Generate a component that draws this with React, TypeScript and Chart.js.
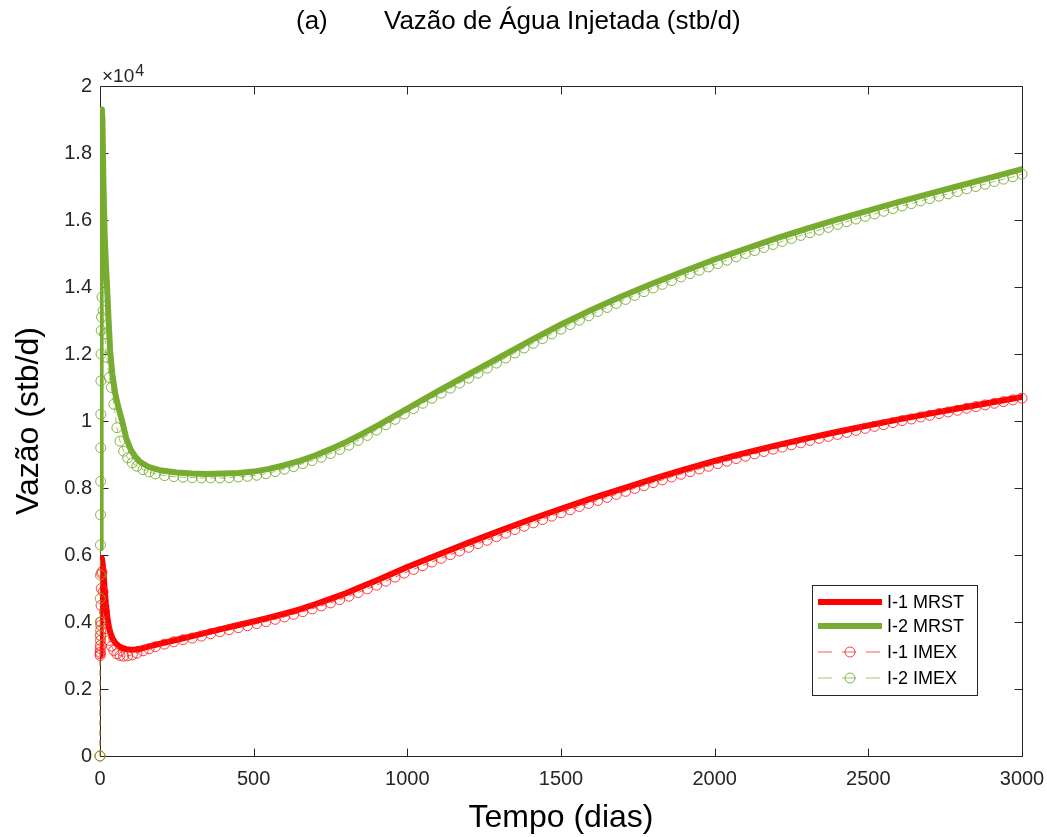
import React, { useEffect, useRef } from "react";
import { Chart, registerables } from "chart.js";

Chart.register(...registerables);

const FONT = "'Liberation Sans', Arial, Helvetica, sans-serif";
const AXIS_COLOR = "#262626";

const TITLE_TAG = "(a)";
const TITLE_TEXT = "Vazão de Água Injetada (stb/d)";
const X_TITLE = "Tempo (dias)";
const Y_TITLE = "Vazão (stb/d)";
const Y_MULTIPLIER = "×10";
const Y_EXPONENT = "4";
const LEGEND_LABELS = ["I-1 MRST", "I-2 MRST", "I-1 IMEX", "I-2 IMEX"];

const X_TICKS = [0, 500, 1000, 1500, 2000, 2500, 3000];
const Y_TICKS = [0, 0.2, 0.4, 0.6, 0.8, 1, 1.2, 1.4, 1.6, 1.8, 2];

// values in units of 10^4 stb/d
const MRST_DAYS = [
  0, 1, 2, 3, 4, 6, 8, 11, 15, 19, 23, 28, 33, 40, 50, 60, 72, 85, 100, 115,
  130, 160, 200, 250, 300, 350, 400, 450, 500, 550, 600, 650, 700, 750, 800,
  850, 900, 950, 1000, 1100, 1200, 1300, 1400, 1500, 1600, 1700, 1800, 1900,
  2000, 2100, 2200, 2300, 2400, 2500, 2600, 2700, 2800, 2900, 3000,
];
const MRST_I1 = [
  0.3, 0.36, 0.44, 0.51, 0.56, 0.59, 0.58, 0.55, 0.5, 0.455, 0.42, 0.39, 0.37,
  0.352, 0.338, 0.329, 0.323, 0.319, 0.317, 0.318, 0.32, 0.327, 0.336, 0.347,
  0.358, 0.369, 0.38, 0.391, 0.402, 0.413, 0.425, 0.438, 0.453, 0.469, 0.486,
  0.505, 0.524, 0.544, 0.564, 0.601, 0.637, 0.672, 0.706, 0.738, 0.769, 0.798,
  0.827, 0.855, 0.881, 0.905, 0.927, 0.948, 0.968, 0.987, 1.005, 1.022, 1.039,
  1.055, 1.072,
];
const MRST_I2 = [
  0.62, 1.0, 1.4, 1.65, 1.8, 1.93, 1.9, 1.72, 1.56, 1.47, 1.4, 1.3, 1.21, 1.14,
  1.08, 1.04, 1.0, 0.95, 0.915, 0.893, 0.878, 0.862, 0.852, 0.846, 0.843,
  0.842, 0.843, 0.845, 0.849, 0.857, 0.868, 0.881, 0.897, 0.916, 0.937, 0.96,
  0.985, 1.011, 1.037, 1.089, 1.14, 1.19, 1.24, 1.288, 1.332, 1.373, 1.411,
  1.447, 1.482, 1.514, 1.545, 1.574, 1.602, 1.628, 1.654, 1.679, 1.703, 1.727,
  1.752,
];

const IMEX_DAYS = [
  0, 0.3, 0.6, 0.9, 1.2, 1.5, 1.8, 2.1, 2.4, 2.7, 3, 3.5, 4, 5, 6.5, 10, 15,
  22, 30, 37, 45, 55, 65, 77, 90, 105, 120, 140, 160, 180, 210, 240, 270,
  300, 330, 360, 390, 420, 450, 480, 510, 540, 570, 600, 630, 660, 690, 720,
  750, 780, 810, 840, 870, 900, 930, 960, 990, 1020, 1050, 1080, 1110, 1140,
  1170, 1200, 1230, 1260, 1290, 1320, 1350, 1380, 1410, 1440, 1470, 1500,
  1530, 1560, 1590, 1620, 1650, 1680, 1710, 1740, 1770, 1800, 1830, 1860,
  1890, 1920, 1950, 1980, 2010, 2040, 2070, 2100, 2130, 2160, 2190, 2220,
  2250, 2280, 2310, 2340, 2370, 2400, 2430, 2460, 2490, 2520, 2550, 2580,
  2610, 2640, 2670, 2700, 2730, 2760, 2790, 2820, 2850, 2880, 2910, 2940,
  2970, 3000,
];
const IMEX_I1 = [
  0, 0.3, 0.305, 0.31, 0.32, 0.33, 0.345, 0.36, 0.375, 0.39, 0.4, 0.45, 0.5,
  0.545, 0.55, 0.49, 0.43, 0.38, 0.345, 0.328, 0.315, 0.305, 0.3, 0.298, 0.299,
  0.302, 0.307, 0.314, 0.32, 0.326, 0.334, 0.341, 0.347,
  0.352, 0.358, 0.365, 0.371, 0.377, 0.383, 0.389, 0.395, 0.401, 0.408, 0.415,
  0.423, 0.431, 0.439, 0.448, 0.457, 0.467, 0.477, 0.488, 0.499, 0.51, 0.522,
  0.534, 0.546, 0.557, 0.568, 0.579, 0.59, 0.601, 0.612, 0.623, 0.634, 0.644,
  0.655, 0.665, 0.676, 0.686, 0.696, 0.706, 0.716, 0.726, 0.735, 0.745, 0.754,
  0.763, 0.772, 0.781, 0.79, 0.799, 0.807, 0.816, 0.824, 0.833, 0.841, 0.849,
  0.857, 0.865, 0.873, 0.88, 0.888, 0.895, 0.902, 0.909, 0.916, 0.922, 0.929,
  0.935, 0.942, 0.948, 0.954, 0.96, 0.966, 0.972, 0.978, 0.984, 0.989, 0.995,
  1.001, 1.006, 1.012, 1.017, 1.022, 1.027, 1.032, 1.038, 1.043, 1.048, 1.053,
  1.058, 1.063, 1.068,
];
const IMEX_I2 = [
  0, 0.36, 0.4, 0.47, 0.54, 0.63, 0.72, 0.82, 0.92, 1.02, 1.12, 1.2, 1.27,
  1.31, 1.37, 1.33, 1.26, 1.19, 1.13, 1.1, 1.05, 0.98, 0.94, 0.91, 0.89, 0.875,
  0.865, 0.855, 0.848, 0.842, 0.837, 0.834, 0.832,
  0.831, 0.83, 0.83, 0.83, 0.831, 0.833, 0.835, 0.838, 0.843, 0.849, 0.856,
  0.864, 0.873, 0.882, 0.892, 0.903, 0.915, 0.928, 0.942, 0.957, 0.973, 0.989,
  1.005, 1.021, 1.037, 1.053, 1.068, 1.083, 1.098, 1.113, 1.128, 1.143, 1.158,
  1.173, 1.188, 1.203, 1.218, 1.232, 1.246, 1.26, 1.274, 1.288, 1.301, 1.314,
  1.327, 1.339, 1.351, 1.363, 1.375, 1.386, 1.397, 1.408, 1.419, 1.43, 1.44,
  1.45, 1.46, 1.47, 1.48, 1.49, 1.5, 1.509, 1.518, 1.527, 1.536, 1.545,
  1.554, 1.562, 1.57, 1.578, 1.587, 1.595, 1.603, 1.611, 1.618, 1.626, 1.634,
  1.642, 1.649, 1.657, 1.664, 1.671, 1.678, 1.685, 1.693, 1.7, 1.707, 1.715,
  1.722, 1.729, 1.737,
];

const RED = "#FF0000";
const GREEN = "#77AC30";
const RED_THIN = "rgba(255,0,0,0.65)";
const GREEN_THIN = "rgba(119,172,48,0.7)";
const RED_MARK = "rgba(255,30,30,0.85)";
const GREEN_MARK = "rgba(119,172,48,0.9)";

const toXY = (xs: number[], ys: number[]) => xs.map((x, i) => ({ x, y: ys[i] }));

const framePlugin = {
  id: "frame",
  beforeDatasetsDraw(chart: any) {
    const { ctx, chartArea, scales } = chart;
    const { left, top, right, bottom } = chartArea;
    const L = Math.round(left) + 0.5;
    const R = Math.round(right) + 0.5;
    const T = Math.round(top) + 0.5;
    const B = Math.round(bottom) + 0.5;
    ctx.save();
    ctx.strokeStyle = AXIS_COLOR;
    ctx.lineWidth = 1;
    ctx.beginPath();
    ctx.rect(L, T, R - L, B - T);
    const tl = 8;
    X_TICKS.forEach((v) => {
      const px = Math.round(scales.x.getPixelForValue(v)) + 0.5;
      ctx.moveTo(px, B);
      ctx.lineTo(px, B - tl);
      ctx.moveTo(px, T);
      ctx.lineTo(px, T + tl);
    });
    Y_TICKS.forEach((v) => {
      const py = Math.round(scales.y.getPixelForValue(v)) + 0.5;
      ctx.moveTo(L, py);
      ctx.lineTo(L + tl, py);
      ctx.moveTo(R, py);
      ctx.lineTo(R - tl, py);
    });
    ctx.stroke();
    ctx.restore();
  },
};

const overlayPlugin = {
  id: "overlay",
  afterDatasetsDraw(chart: any) {
    const { ctx, chartArea } = chart;
    // legend box (inside plot area, lower right)
    const bx = chartArea.right - 210;
    const by = chartArea.bottom - 171;
    const bw = 165;
    const bh = 110;
    ctx.save();
    ctx.fillStyle = "#ffffff";
    ctx.fillRect(bx, by, bw, bh);
    ctx.strokeStyle = AXIS_COLOR;
    ctx.lineWidth = 1;
    ctx.strokeRect(Math.round(bx) + 0.5, Math.round(by) + 0.5, bw, bh);
    const rows = [17, 41, 67, 93];
    const x0 = bx + 6;
    const x1 = bx + 70;
    const xc = (x0 + x1) / 2;
    const styles = [
      { color: RED, width: 6, marker: null as string | null, thin: "" },
      { color: GREEN, width: 6, marker: null as string | null, thin: "" },
      { color: RED_THIN, width: 1, marker: RED_MARK, thin: "dash" },
      { color: GREEN_THIN, width: 1, marker: GREEN_MARK, thin: "dash" },
    ];
    styles.forEach((s, i) => {
      const y = by + rows[i];
      ctx.beginPath();
      ctx.strokeStyle = s.color;
      ctx.lineWidth = s.width;
      if (s.thin) ctx.setLineDash([14, 10]);
      else ctx.setLineDash([]);
      ctx.moveTo(x0, y);
      ctx.lineTo(x1, y);
      ctx.stroke();
      ctx.setLineDash([]);
      if (s.marker) {
        ctx.beginPath();
        ctx.strokeStyle = s.marker;
        ctx.lineWidth = 1;
        ctx.arc(xc, y, 5, 0, Math.PI * 2);
        ctx.stroke();
      }
      ctx.fillStyle = "#000000";
      ctx.font = `18px ${FONT}`;
      ctx.textAlign = "left";
      ctx.textBaseline = "middle";
      ctx.fillText(LEGEND_LABELS[i], bx + 75, y + 1);
    });
    ctx.restore();
  },
  afterDraw(chart: any) {
    const { ctx, chartArea } = chart;
    ctx.save();
    // title
    ctx.fillStyle = "#000000";
    ctx.font = `26px ${FONT}`;
    ctx.textBaseline = "middle";
    ctx.textAlign = "left";
    ctx.fillText(TITLE_TAG, 296, 22);
    ctx.fillText(TITLE_TEXT, 384, 22);
    // exponent label
    ctx.fillStyle = AXIS_COLOR;
    ctx.textBaseline = "alphabetic";
    ctx.font = `19px ${FONT}`;
    const ex = chartArea.left + 2;
    ctx.fillText(Y_MULTIPLIER, ex, chartArea.top - 4);
    const w = ctx.measureText(Y_MULTIPLIER).width;
    ctx.font = `16px ${FONT}`;
    ctx.fillText(Y_EXPONENT, ex + w + 1, chartArea.top - 10);
    ctx.restore();
  },
};

export default function App() {
  const ref = useRef<HTMLCanvasElement | null>(null);
  useEffect(() => {
    if (!ref.current) return;
    const chart = new Chart(ref.current, {
      type: "line",
      data: {
        datasets: [
          {
            label: LEGEND_LABELS[0],
            data: toXY(MRST_DAYS, MRST_I1),
            borderColor: RED,
            backgroundColor: RED,
            borderWidth: 6,
            pointRadius: 0,
            tension: 0,
            borderJoinStyle: "round",
            borderCapStyle: "round",
            order: 4,
          },
          {
            label: LEGEND_LABELS[1],
            data: toXY(MRST_DAYS, MRST_I2),
            borderColor: GREEN,
            backgroundColor: GREEN,
            borderWidth: 6,
            pointRadius: 0,
            tension: 0,
            borderJoinStyle: "round",
            borderCapStyle: "round",
            order: 3,
          },
          {
            label: LEGEND_LABELS[2],
            data: toXY(IMEX_DAYS, IMEX_I1),
            borderColor: RED_THIN,
            borderWidth: 1,
            borderDash: [6, 4],
            pointRadius: 5,
            pointBorderWidth: 1,
            pointBorderColor: RED_MARK,
            pointBackgroundColor: "rgba(0,0,0,0)",
            pointStyle: "circle",
            tension: 0,
            clip: false,
            order: 2,
          },
          {
            label: LEGEND_LABELS[3],
            data: toXY(IMEX_DAYS, IMEX_I2),
            borderColor: GREEN_THIN,
            borderWidth: 1,
            borderDash: [6, 4],
            pointRadius: 5,
            pointBorderWidth: 1,
            pointBorderColor: GREEN_MARK,
            pointBackgroundColor: "rgba(0,0,0,0)",
            pointStyle: "circle",
            tension: 0,
            clip: false,
            order: 1,
          },
        ] as any,
      },
      options: {
        animation: false,
        responsive: true,
        maintainAspectRatio: false,
        events: [],
        layout: { padding: { top: 86, right: 25, left: 0, bottom: 0 } },
        plugins: {
          legend: { display: false },
          tooltip: { enabled: false },
          title: { display: false },
        },
        scales: {
          x: {
            type: "linear",
            min: 0,
            max: 3000,
            afterFit: (s: any) => {
              s.height = 81;
              s.paddingRight = 0;
              s.paddingLeft = 0;
            },
            afterBuildTicks: (s: any) => {
              s.ticks = X_TICKS.map((v) => ({ value: v }));
            },
            grid: { display: false, drawTicks: false },
            border: { display: false },
            ticks: {
              color: AXIS_COLOR,
              font: { family: FONT, size: 20 },
              padding: 11,
              maxRotation: 0,
              autoSkip: false,
              callback: (v: any) => String(Math.round(Number(v))),
            },
            title: {
              display: true,
              text: X_TITLE,
              color: "#000000",
              font: { family: FONT, size: 32 },
              padding: { top: 0, bottom: 0 },
            },
          },
          y: {
            type: "linear",
            min: 0,
            max: 2,
            afterFit: (s: any) => {
              s.width = 100;
            },
            afterBuildTicks: (s: any) => {
              s.ticks = Y_TICKS.map((v) => ({ value: v }));
            },
            grid: { display: false, drawTicks: false },
            border: { display: false },
            ticks: {
              color: AXIS_COLOR,
              font: { family: FONT, size: 20 },
              padding: 8,
              autoSkip: false,
              callback: (v: any) => String(Number(Number(v).toFixed(1))),
            },
            title: {
              display: true,
              text: Y_TITLE,
              color: "#000000",
              font: { family: FONT, size: 32 },
              padding: { top: 10, bottom: 0 },
            },
          },
        },
      },
      plugins: [framePlugin, overlayPlugin],
    });
    return () => chart.destroy();
  }, []);

  return (
    <div style={{ position: "absolute", left: 0, top: 0, width: 1047, height: 837, background: "#ffffff" }}>
      <canvas ref={ref} />
    </div>
  );
}
